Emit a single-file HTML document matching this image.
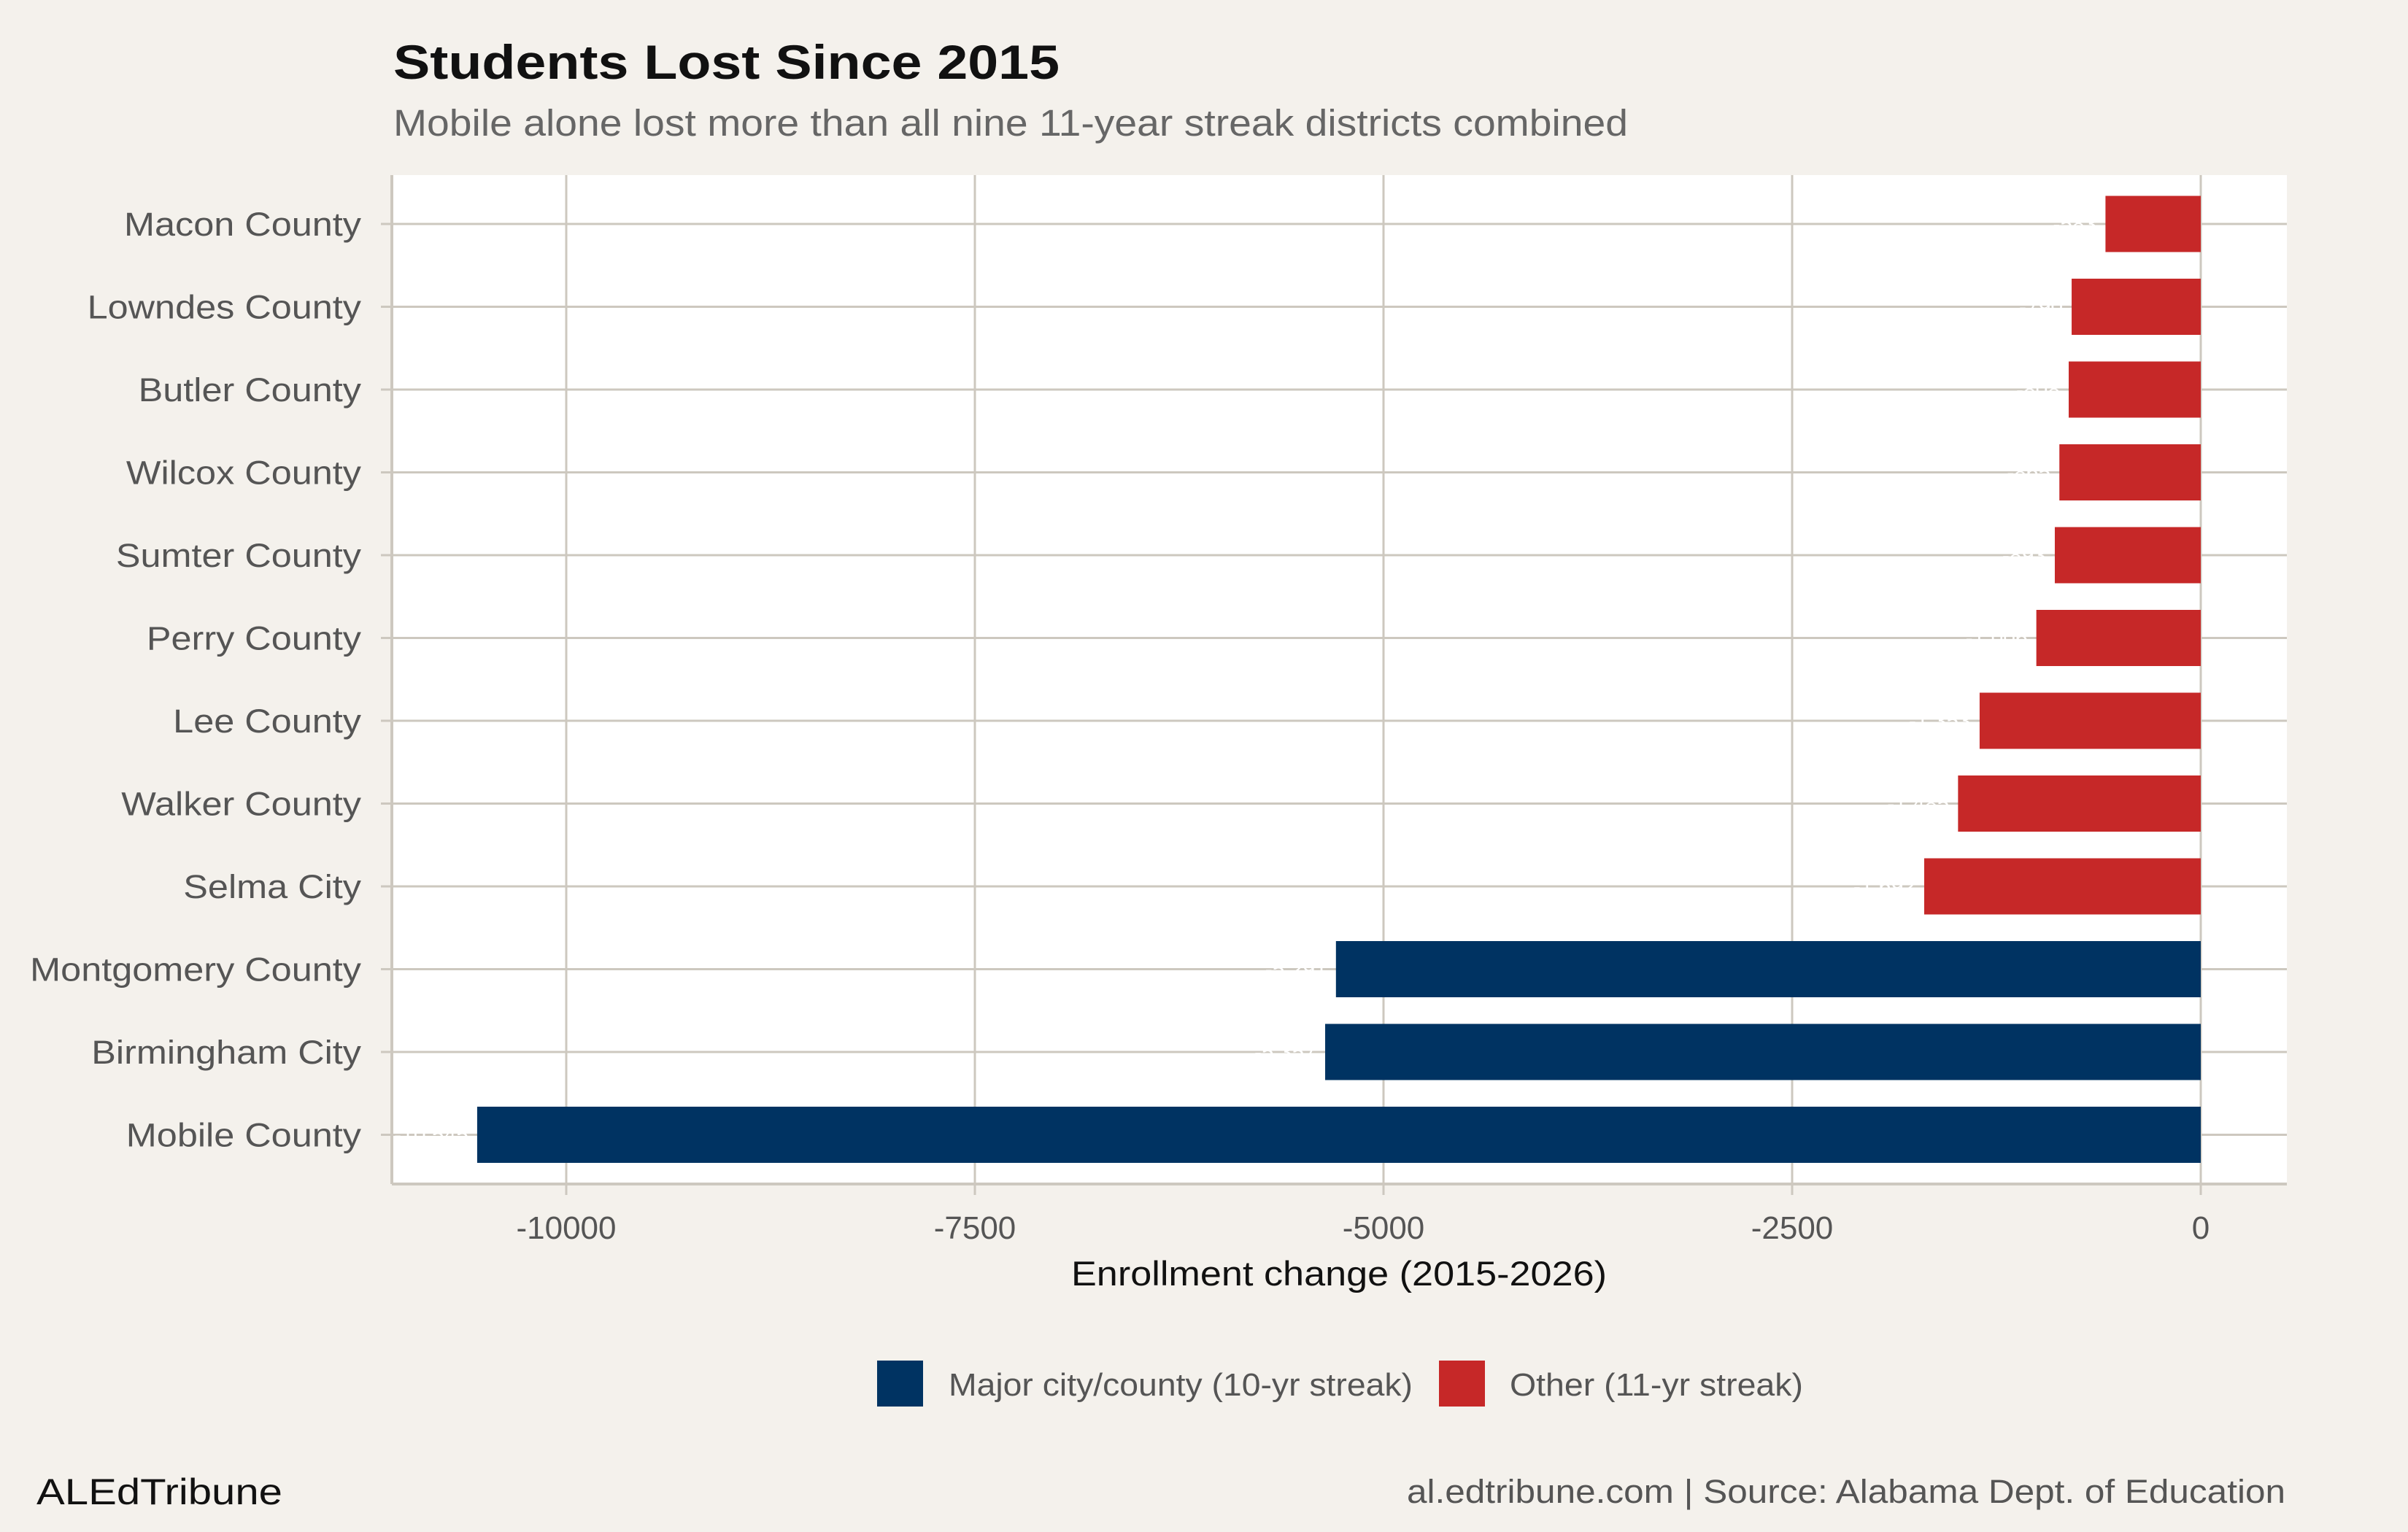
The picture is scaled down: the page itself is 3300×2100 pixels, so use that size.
<!DOCTYPE html>
<html><head><meta charset="utf-8">
<style>
html,body{margin:0;padding:0;background:#f4f1ec;}
svg{display:block;font-family:"Liberation Sans",Arial,sans-serif;}
</style></head>
<body>
<svg id="chart" width="3300" height="2100" viewBox="0 0 3300 2100" xmlns="http://www.w3.org/2000/svg">
<rect width="3300" height="2100" fill="#f4f1ec"/>
<text x="539" y="108" font-size="66" font-weight="bold" fill="#111" textLength="913" lengthAdjust="spacingAndGlyphs">Students Lost Since 2015</text>
<text x="539" y="186" font-size="51" fill="#666" textLength="1692" lengthAdjust="spacingAndGlyphs">Mobile alone lost more than all nine 11-year streak districts combined</text>
<rect x="537" y="240" width="2597" height="1383" fill="#ffffff"/>
<g id="grid"></g>
<g id="bars"></g>
<g id="ylabels"></g>
<g id="xlabels"></g>
<text x="1835" y="1762" font-size="47" fill="#111" text-anchor="middle" textLength="734" lengthAdjust="spacingAndGlyphs">Enrollment change (2015-2026)</text>
<rect x="1202" y="1865" width="63" height="63" fill="#003362"/>
<text x="1300" y="1913" font-size="44" fill="#555" textLength="636" lengthAdjust="spacingAndGlyphs">Major city/county (10-yr streak)</text>
<rect x="1972" y="1865" width="63" height="63" fill="#c62828"/>
<text x="2069" y="1913" font-size="44" fill="#555" textLength="402" lengthAdjust="spacingAndGlyphs">Other (11-yr streak)</text>
<text x="50" y="2062" font-size="50" fill="#111" textLength="337" lengthAdjust="spacingAndGlyphs">ALEdTribune</text>
<text x="3132" y="2060" font-size="45" fill="#555" text-anchor="end" textLength="1204" lengthAdjust="spacingAndGlyphs">al.edtribune.com | Source: Alabama Dept. of Education</text>
</svg>
<script>
const categories = ["Macon County","Lowndes County","Butler County","Wilcox County","Sumter County","Perry County","Lee County","Walker County","Selma City","Montgomery County","Birmingham City","Mobile County"];
const values = [-583,-790,-808,-865,-893,-1006,-1353,-1485,-1692,-5291,-5357,-10545];
const groups = ["other","other","other","other","other","other","other","other","other","major","major","major"];
const xTicks = [-10000,-7500,-5000,-2500,0];
const xTickLabels = ["-10000","-7500","-5000","-2500","0"];

const NS="http://www.w3.org/2000/svg";
const panelL=537, panelR=3134, panelT=240, panelB=1623;
function xScale(v){ return 3016 + v*0.224; }
function yScale(i){ return 307 + i*113.5; }
const barH=77;
function mk(tag, attrs, parent){ const e=document.createElementNS(NS,tag); for(const k in attrs) e.setAttribute(k,attrs[k]); parent.appendChild(e); return e; }
const grid=document.getElementById('grid'), bars=document.getElementById('bars'), yl=document.getElementById('ylabels'), xl=document.getElementById('xlabels');
xTicks.forEach((t,i)=>{
  const x=xScale(t);
  const g=mk('line',{x1:x,x2:x,y1:panelT,y2:panelB+15,stroke:'#cdc8bf','stroke-width':3},grid);
  
  
  const tx=mk('text',{x:x,y:1698,'font-size':44,fill:'#555','text-anchor':'middle'},xl);
  tx.textContent=xTickLabels[i];
  
  
});
categories.forEach((c,i)=>{
  const y=yScale(i);
  const g=mk('line',{x1:panelL-15,x2:panelR,y1:y,y2:y,stroke:'#cdc8bf','stroke-width':3},grid);
  
  
  const x0=xScale(values[i]), x1=xScale(0);
  const r=mk('rect',{x:x0,y:y-barH/2,width:x1-x0,height:barH,fill:groups[i]==='major'?'#003362':'#c62828'},bars);
  
  
  const vl=mk('text',{x:x0-12,y:y+10,'font-size':30,fill:'#ffffff','text-anchor':'end'},bars);
  vl.textContent=values[i].toLocaleString('en-US');
  
  
  const t=mk('text',{x:495,y:y+16,'font-size':45,fill:'#555','text-anchor':'end'},yl);
  t.textContent=c;
  
  
  const w=t.getComputedTextLength();
  t.setAttribute('textLength', (w*1.12).toFixed(1));
  t.setAttribute('lengthAdjust','spacingAndGlyphs');
});
const ax=mk('line',{x1:panelL,x2:panelL,y1:panelT,y2:panelB,stroke:'#cdc8bf','stroke-width':4},grid);


const bx=mk('line',{x1:panelL,x2:panelR,y1:panelB,y2:panelB,stroke:'#cdc8bf','stroke-width':4},grid);


</script>
</body></html>
